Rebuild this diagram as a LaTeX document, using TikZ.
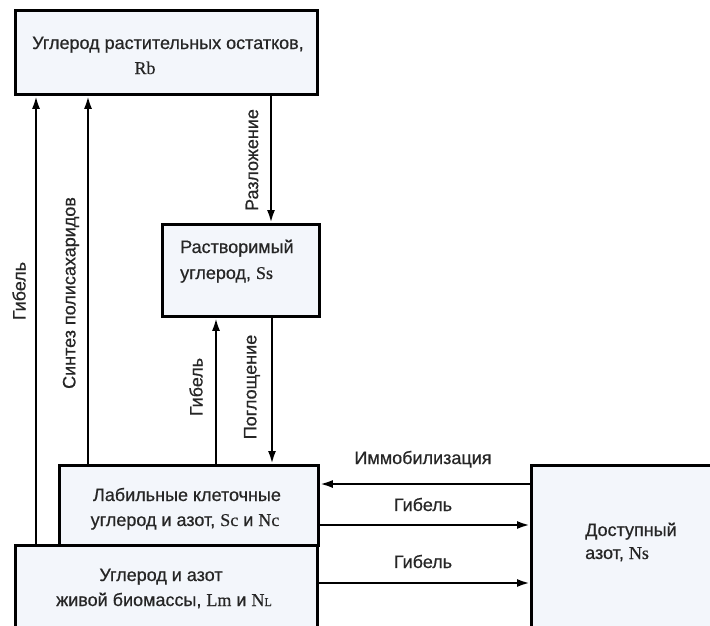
\documentclass[tikz,border=0pt]{standalone}
\usepackage{fontspec}
\setmainfont{Liberation Sans}[FakeBold=0.6]
\newfontfamily\symfont{Liberation Serif}[FakeBold=0.4]
\usetikzlibrary{arrows.meta}
\definecolor{boxfill}{HTML}{F3F6FB}
\tikzset{
  box/.style={draw=black, line width=2.8pt, fill=boxfill, rectangle, inner sep=0pt, anchor=north west},
  txt/.style={font=\fontsize{18}{25}\selectfont, text=black!85, inner sep=0pt},
  vlab/.style={font=\fontsize{18}{25}\selectfont, text=black!85, inner sep=0pt, rotate=90},
  arr/.style={line width=2.4pt, -{Latex[length=13pt,width=8pt]}}
}
\begin{document}
\begin{tikzpicture}[x=1pt,y=-1pt]
\useasboundingbox (0,0) rectangle (710,625);
\clip (0,0) rectangle (710,625);
% boxes
\node[box, minimum width=302pt, minimum height=84pt] (rb) at (14,9) {};
\node[box, minimum width=157pt, minimum height=92pt] (ss) at (161,223) {};
\node[box, minimum width=259pt, minimum height=80pt] (sc) at (58,464) {};
\node[box, minimum width=302pt, minimum height=110pt] (lm) at (14,544) {};
\node[box, minimum width=200pt, minimum height=200pt] (ns) at (530,464) {};
% box texts
\node[txt, anchor=base] (rbt1) at (168,49) {Углерод растительных остатков,};
\node[txt, anchor=base] (rbt2) at (145,74) {\symfont Rb};
\node[txt, anchor=base west] (sst1) at (180,253) {Растворимый};
\node[txt, anchor=base west] (sst2) at (180,279) {углерод, {\symfont Ss}};
\node[txt, anchor=base] (sct1) at (187,501) {Лабильные клеточные};
\node[txt, anchor=base] (sct2) at (185,526) {углерод и азот, {\symfont Sc} и {\symfont Nc}};
\node[txt, anchor=base] (lmt1) at (161,581) {Углерод и азот};
\node[txt, anchor=base] (lmt2) at (164,606) {живой биомассы, {\symfont Lm} и {\symfont N{\fontsize{12}{12}\selectfont L}}};
\node[txt, anchor=base west] (nst1) at (585,536) {Доступный};
\node[txt, anchor=base west] (nst2) at (585,559) {азот, {\symfont Ns}};
% helper coordinates
\coordinate (x36) at (36,0);
\coordinate (x88) at (88,0);
\coordinate (x271) at (271,0);
\coordinate (x216) at (216,0);
\coordinate (x272) at (272,0);
\coordinate (y484) at (0,484);
\coordinate (y525) at (0,525);
\coordinate (y583) at (0,583);
% connectors
\draw[arr] (lm.north -| x36) -- (rb.south -| x36);
\draw[arr] (sc.north -| x88) -- (rb.south -| x88);
\draw[arr] (rb.south -| x271) -- (ss.north -| x271);
\draw[arr] (sc.north -| x216) -- (ss.south -| x216);
\draw[arr] (ss.south -| x272) -- (sc.north -| x272);
\draw[arr] (ns.west |- y484) -- (sc.east |- y484);
\draw[arr] (sc.east |- y525) -- (ns.west |- y525);
\draw[arr] (lm.east |- y583) -- (ns.west |- y583);
% connector labels
\node[vlab] (l1) at (19,291) {Гибель};
\node[vlab] (l2) at (71,293) {Синтез полисахаридов};
\node[vlab] (l3) at (252,160) {Разложение};
\node[vlab] (l4) at (196,387) {Гибель};
\node[vlab] (l5) at (252,387) {Поглощение};
\node[txt, anchor=base] (l6) at (423,464) {Иммобилизация};
\node[txt, anchor=base] (l7) at (423,511) {Гибель};
\node[txt, anchor=base] (l8) at (423,568) {Гибель};
\end{tikzpicture}
\end{document}
